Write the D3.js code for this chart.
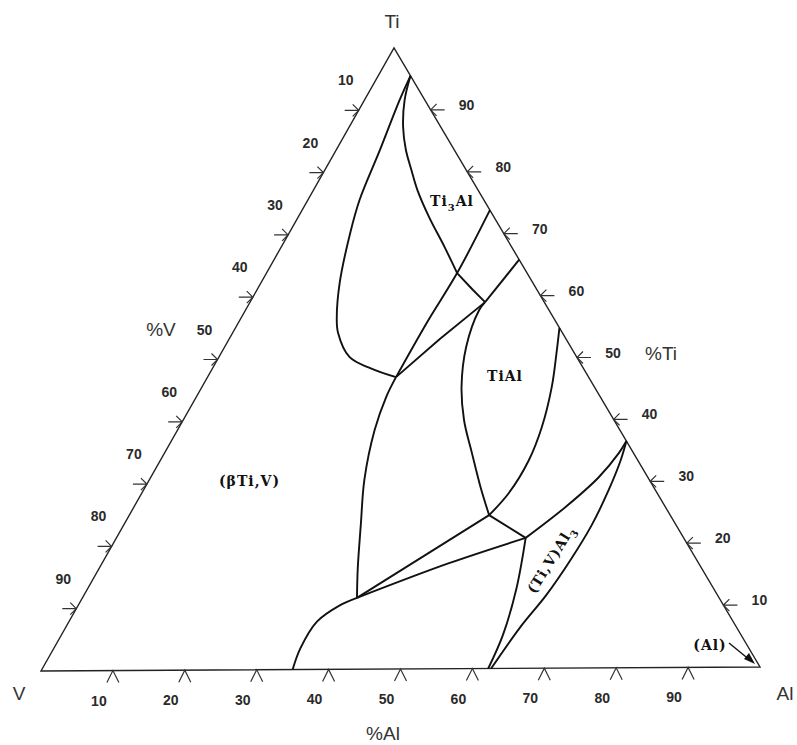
<!DOCTYPE html>
<html>
<head>
<meta charset="utf-8">
<script src="https://cdnjs.cloudflare.com/ajax/libs/d3/7.8.5/d3.min.js"></script>
<style>
  html, body { margin: 0; padding: 0; background: #fff; }
  svg { display: block; }
  .corner { font-family: "Liberation Sans", Arial, sans-serif; font-size: 19px; fill: #333; }
  .tick-label { font-family: "Liberation Sans", Arial, sans-serif; font-size: 14px; font-weight: bold; fill: #2a2a2a; }
  .phase { font-family: "DejaVu Serif", serif; font-size: 14px; font-weight: bold; fill: #111; letter-spacing: 1px; }
</style>
</head>
<body>
<div id="chart"></div>
<script>
// compositions as [at.% Al, at.% Ti], V is the balance
const tickValues = [10, 20, 30, 40, 50, 60, 70, 80, 90];

const betaLoop = [[4.5, 95.5], [4.9, 91.6], [6.1, 83.6], [7.2, 75.6], [8.5, 70.3], [11.0, 62.2],
  [13.3, 56.7], [14.7, 54.2], [18.2, 50.3], [21.9, 48.5], [26.3, 47.0]];
const ti3AlLeft = [[4.5, 95.5], [5.6, 91.6], [7.5, 87.3], [9.7, 83.6], [12.1, 80.3], [14.5, 77.1],
  [18.3, 72.7], [22.8, 67.9], [26.6, 63.7]];
const ti3AlLower = [[26.6, 63.7], [30.1, 61.0], [32.8, 59.0]];
const tieEdge1 = [[26.2, 73.8], [26.6, 63.7], [26.3, 55.9], [26.3, 47.0]];
const tieEdge2 = [[34.2, 65.8], [32.8, 59.0]];
const lineGF = [[32.8, 59.0], [29.4, 53.1], [26.3, 47.0]];
const tiAlLeft = [[32.8, 59.0], [32.6, 57.7], [33.7, 51.8], [36.2, 45.4], [39.2, 40.0], [42.9, 34.7],
  [46.8, 29.2], [50.2, 24.7]];
const tiAlRight = [[45.2, 54.8], [46.8, 50.7], [48.8, 45.3], [50.6, 38.8], [51.4, 33.5], [51.2, 28.2],
  [50.2, 24.7]];
const lineFD = [[26.3, 47.0], [26.5, 43.8], [27.5, 38.5], [30.0, 30.5], [33.0, 23.4], [36.1, 16.2], [38.3, 11.5]];
const lineDB = [[38.3, 11.5], [50.2, 24.7]];
const lineDC = [[38.3, 11.5], [48.4, 17.0], [57.1, 21.0]];
const lineBC = [[50.2, 24.7], [57.1, 21.0]];
const lineDBottom = [[38.3, 11.5], [36.5, 10.3], [34.6, 7.7], [34.4, 3.4], [35.0, 0]];
const lineCBottom = [[57.1, 21.0], [59.8, 12.9], [61.6, 5.4], [62.2, 0]];
const al3Left = [[57.1, 21.0], [60.2, 25.9], [62.5, 30.7], [63.4, 34.6], [63.5, 36.5]];
const al3Right = [[62.6, 0], [63.4, 6.6], [64.5, 11.8], [65.1, 17.4], [65.3, 23.0], [64.9, 28.6],
  [64.2, 33.5], [63.5, 36.5]];

// defining setup/layout variables
const width = 797;
const height = 745;
const vertex = {V: [41, 671], Al: [760, 667], Ti: [394, 48]};

const frac = d3.scaleLinear().domain([0, 100]).range([0, 1]);

// ternary -> pixel
function project(d) {
  const a = frac(d[0]);
  const t = frac(d[1]);
  return [
    vertex.V[0] + a * (vertex.Al[0] - vertex.V[0]) + t * (vertex.Ti[0] - vertex.V[0]),
    vertex.V[1] + a * (vertex.Al[1] - vertex.V[1]) + t * (vertex.Ti[1] - vertex.V[1])
  ];
}

const svg = d3.select('#chart')
  .append('svg')
  .attr('width', width)
  .attr('height', height);

// triangle frame
svg.append('path')
  .attr('d', d3.line()([[0, 0], [100, 0], [0, 100]].map(project)) + 'Z')
  .style('fill', 'none')
  .style('stroke', '#222')
  .style('stroke-width', 1.4);

// phase boundaries
const smooth = d3.line().x(d => project(d)[0]).y(d => project(d)[1]).curve(d3.curveCatmullRom.alpha(0.5));
const straight = d3.line().x(d => project(d)[0]).y(d => project(d)[1]);

const boundaries = [
  {pts: betaLoop, gen: smooth},
  {pts: ti3AlLeft, gen: smooth},
  {pts: ti3AlLower, gen: straight},
  {pts: tieEdge1, gen: smooth},
  {pts: tieEdge2, gen: straight},
  {pts: lineGF, gen: straight},
  {pts: tiAlLeft, gen: smooth},
  {pts: tiAlRight, gen: smooth},
  {pts: lineFD, gen: smooth},
  {pts: lineDB, gen: straight},
  {pts: lineDC, gen: smooth},
  {pts: lineBC, gen: straight},
  {pts: lineDBottom, gen: smooth},
  {pts: lineCBottom, gen: smooth},
  {pts: al3Left, gen: smooth},
  {pts: al3Right, gen: smooth}
];

svg.append('g')
  .selectAll('path')
  .data(boundaries)
  .enter()
  .append('path')
  .attr('d', d => d.gen(d.pts))
  .style('fill', 'none')
  .style('stroke', '#111')
  .style('stroke-width', 1.9)
  .style('stroke-linejoin', 'round');

// ticks: bottom (%Al), left (%V), right (%Ti)
const axes = [
  {pos: v => [v, 0], glyph: 'M-6,12L0,0L6,12', dx: -14, dy: 35},
  {pos: v => [0, 100 - v], glyph: 'M-14,0L0,0M-6,-6L0,0L-6,6', dx: -13, dy: -25},
  {pos: v => [100 - v, v], glyph: 'M14,0L0,0M6,-6L0,0L6,6', dx: 36, dy: 0}
];

axes.forEach(ax => {
  const g = svg.append('g');
  g.selectAll('path')
    .data(tickValues)
    .enter()
    .append('path')
    .attr('transform', d => `translate(${project(ax.pos(d))})`)
    .attr('d', ax.glyph)
    .style('fill', 'none')
    .style('stroke', '#333')
    .style('stroke-width', 1.2);
  g.selectAll('text')
    .data(tickValues)
    .enter()
    .append('text')
    .attr('class', 'tick-label')
    .attr('x', d => project(ax.pos(d))[0] + ax.dx)
    .attr('y', d => project(ax.pos(d))[1] + ax.dy)
    .attr('text-anchor', 'middle')
    .text(d => d);
});

// corner and axis titles
const titles = [
  {t: 'Ti', x: 392, y: 28},
  {t: 'V', x: 19, y: 700},
  {t: 'Al', x: 785, y: 700},
  {t: '%V', x: 161, y: 336},
  {t: '%Ti', x: 661, y: 360},
  {t: '%Al', x: 383, y: 740}
];
svg.append('g')
  .selectAll('text')
  .data(titles)
  .enter()
  .append('text')
  .attr('class', 'corner')
  .attr('x', d => d.x)
  .attr('y', d => d.y)
  .attr('text-anchor', 'middle')
  .text(d => d.t);

// phase labels
const phaseLabels = [
  {text: 'Ti', sub: '3', rest: 'Al', x: 430, y: 206},
  {text: 'TiAl', sub: '', rest: '', x: 487, y: 381},
  {text: '(\u03b2Ti,V)', sub: '', rest: '', x: 219, y: 486}
];
phaseLabels.forEach(p => {
  const t = svg.append('text')
    .attr('class', 'phase')
    .attr('x', p.x)
    .attr('y', p.y);
  t.append('tspan').text(p.text);
  if (p.sub) {
    t.append('tspan').attr('dy', 5).style('font-size', '10px').text(p.sub);
    t.append('tspan').attr('dy', -5).text(p.rest);
  }
});

// rotated (Ti,V)Al3 label
const al3 = svg.append('text')
  .attr('class', 'phase')
  .attr('text-anchor', 'middle')
  .attr('transform', 'translate(555,562) rotate(-58)');
al3.append('tspan').text('(Ti,V)Al');
al3.append('tspan').attr('dy', 5).style('font-size', '10px').text('3');

// (Al) with arrow into the corner
svg.append('text')
  .attr('class', 'phase')
  .attr('x', 710)
  .attr('y', 650)
  .attr('text-anchor', 'middle')
  .text('(Al)');
svg.append('path')
  .attr('d', 'M729,643L751,661')
  .style('stroke', '#111')
  .style('stroke-width', 1.4);
svg.append('path')
  .attr('d', 'M755,664L744,659L749,653Z')
  .style('fill', '#111');
</script>
</body>
</html>
